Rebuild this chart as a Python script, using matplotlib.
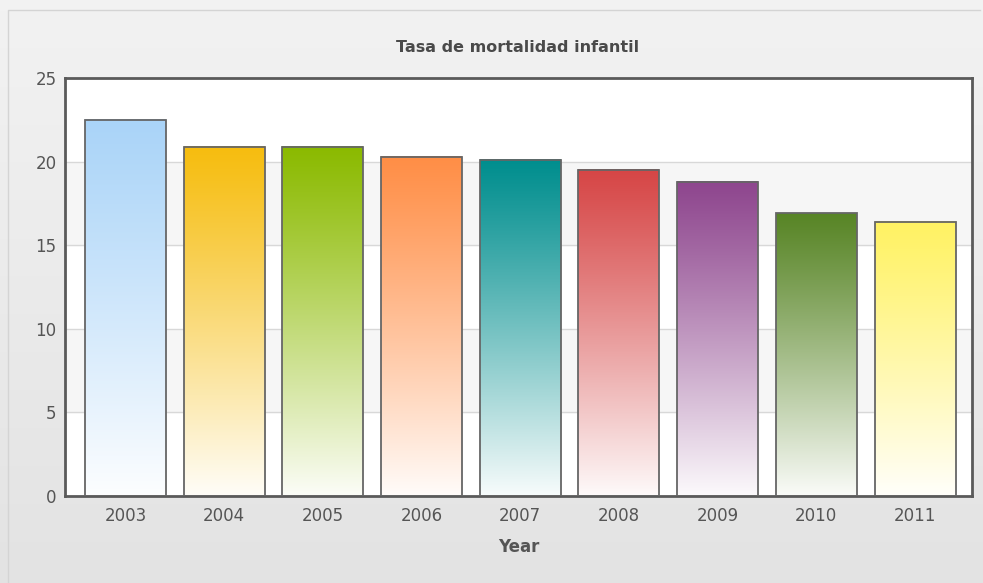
import matplotlib.pyplot as plt
import numpy as np
from matplotlib.colors import to_rgb

years = ["2003", "2004", "2005", "2006", "2007", "2008", "2009", "2010", "2011"]
rates = [22.5, 20.9, 20.9, 20.3, 20.1, 19.5, 18.8, 16.9, 16.4]
colors = ["#aad4f8", "#f6bd0f", "#8bba00", "#ff8e46", "#008e8e",
          "#d64646", "#8e468e", "#588526", "#fff263"]

fig = plt.figure(figsize=(9.83, 5.83), dpi=100)

# background gradient for the whole figure
bg = fig.add_axes([0, 0, 1, 1], zorder=-10)
g = np.linspace(0, 1, 256).reshape(-1, 1)
top = np.array([0.95, 0.95, 0.95])
bot = np.array([0.89, 0.89, 0.89])
img = top + (bot - top) * g[:, :, None]
bg.imshow(img, aspect="auto", extent=(0, 1, 0, 1), origin="upper")
bg.plot([0.008, 0.008, 0.997], [0.0, 0.983, 0.983], color="#d4d4d4", lw=1)
bg.set_xlim(0, 1)
bg.set_ylim(0, 1)
bg.axis("off")

ax = fig.add_axes([0.0661, 0.1492, 0.9227, 0.717])
x = np.arange(len(years))
w = 0.82

# alternating bands
for lo in range(0, 25, 5):
    c = "#f6f6f6" if (lo // 5) % 2 == 1 else "white"
    ax.axhspan(lo, lo + 5, color=c, zorder=0)
    ax.axhline(lo, color="#d8d8d8", lw=1, zorder=0.5)

for xi, v, c in zip(x, rates, colors):
    rgb = np.array(to_rgb(c))
    t = np.linspace(0, 1, 200).reshape(-1, 1)
    grad = rgb + (1 - rgb) * (t[:, :, None] ** 1.1) * 0.97
    ax.imshow(grad, aspect="auto", extent=(xi - w / 2, xi + w / 2, 0, v),
              origin="upper", zorder=2)
    ax.bar(xi, v, width=w, facecolor="none", edgecolor="#666666",
           linewidth=1.3, zorder=3)

ax.set_xlim(-0.613, 8.577)
ax.set_ylim(0, 25)
ax.set_xticks(x)
ax.set_xticklabels(years)
ax.set_yticks([0, 5, 10, 15, 20, 25])
ax.tick_params(length=0, colors="#555555", labelsize=12)
ax.tick_params(axis="x", pad=8)
ax.tick_params(axis="y", pad=6)
for s in ax.spines.values():
    s.set_color("#5a5a5a")
    s.set_linewidth(2)
ax.set_xlabel("Year", fontsize=12, fontweight="bold", color="#555555", labelpad=9)
fig.text(0.527, 0.918, "Tasa de mortalidad infantil", ha="center", va="center",
         fontsize=11.5, fontweight="bold", color="#4a4a4a")

plt.savefig("out.png")
